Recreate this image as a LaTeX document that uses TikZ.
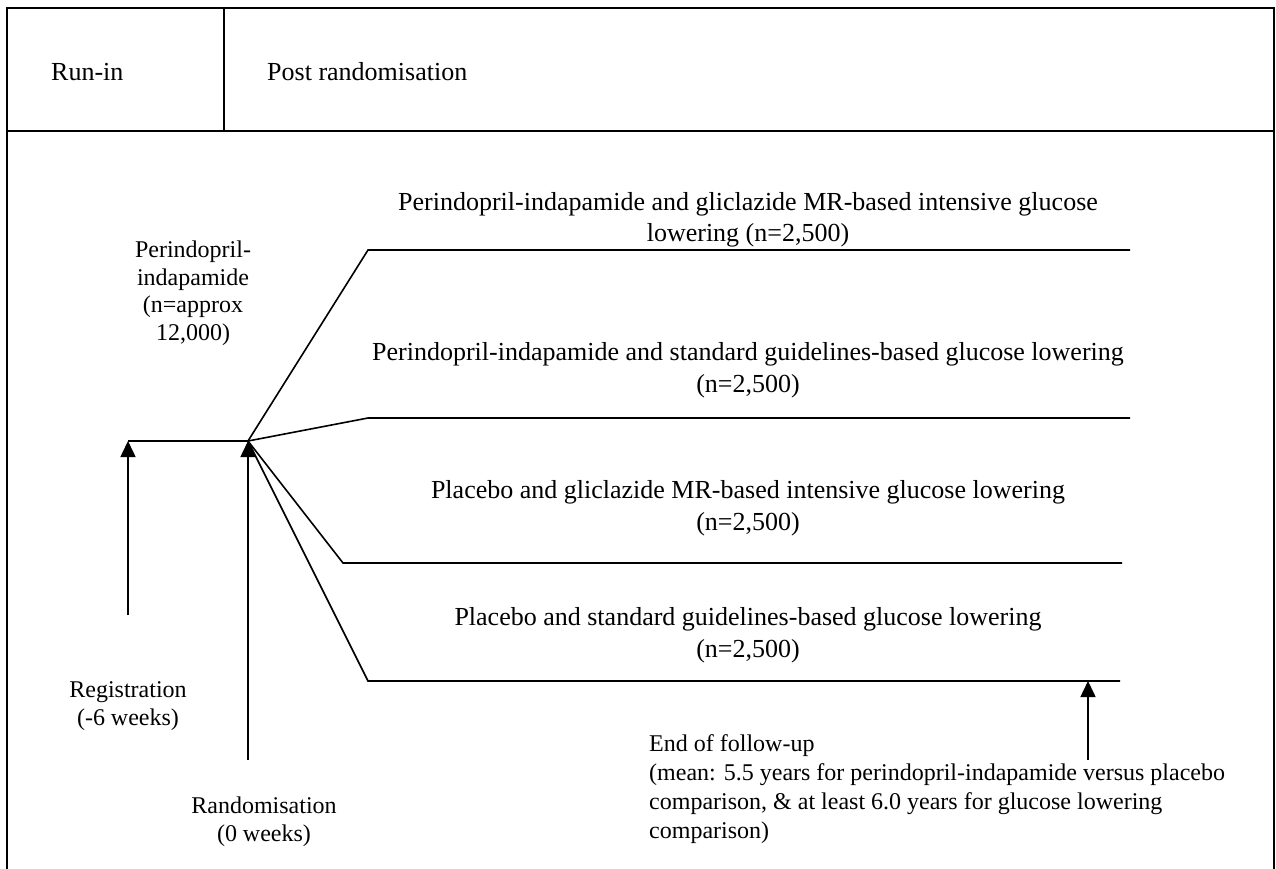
\documentclass[tikz,border=0pt]{standalone}
\usepackage{fontspec}
\setmainfont{Liberation Serif}
\usetikzlibrary{arrows.meta}
\begin{document}
\begin{tikzpicture}[x=1pt,y=-1pt,
  ln/.style={line width=1.6pt},
  arr/.style={line width=1.6pt,-{Triangle[width=15pt,length=16pt]}},
  frame/.style={line width=2pt},
  lbl/.style={inner sep=0pt,align=center,font=\fontsize{24}{28}\selectfont},
  ttl/.style={inner sep=0pt,align=center,font=\fontsize{26}{31.5}\selectfont},
  hdr/.style={inner sep=0pt,align=left,font=\fontsize{26}{29}\selectfont},
  lbll/.style={inner sep=0pt,align=left,font=\fontsize{24}{29}\selectfont}]
\useasboundingbox (0,0) rectangle (1276,868);
% frame
\coordinate (fbl) at (7,880);
\coordinate (ftl) at (7,8);
\coordinate (ftr) at (1274,8);
\coordinate (fbr) at (1274,880);
\coordinate (hl) at (7,131);
\coordinate (hr) at (1274,131);
\coordinate (vt) at (224,8);
\coordinate (vb) at (224,131);
\draw[frame] (fbl) -- (ftl) -- (ftr) -- (fbr);
\draw[frame] (hl) -- (hr);
\draw[frame] (vt) -- (vb);
\node[hdr,anchor=west] (runin) at (51,72) {Run-in};
\node[hdr,anchor=west] (post) at (267,72) {Post randomisation};
% timeline
\coordinate (reg) at (128,441);
\coordinate (rnd) at (248,441);
\coordinate (regb) at (128,615);
\coordinate (rndb) at (248,760);
\coordinate (a1) at (368,250);  \coordinate (e1) at (1130,250);
\coordinate (a2) at (368,418);  \coordinate (e2) at (1130,418);
\coordinate (a3) at (343,563);  \coordinate (e3) at (1122,563);
\coordinate (a4) at (368,681);  \coordinate (e4) at (1120,681);
\coordinate (endt) at (1088,681);
\coordinate (endb) at (1088,760);
\draw[ln] (reg) -- (rnd);
\draw[ln] (rnd) -- (a1) -- (e1);
\draw[ln] (rnd) -- (a2) -- (e2);
\draw[ln] (rnd) -- (a3) -- (e3);
\draw[ln] (rnd) -- (a4) -- (e4);
\draw[arr] (regb) -- (reg);
\draw[arr] (rndb) -- (rnd);
\draw[arr] (endb) -- (endt);
% labels
\node[ttl] (t1) at (748,220) {Perindopril-indapamide and gliclazide MR-based intensive glucose\\lowering (n=2,500)};
\node[ttl] (t2) at (748,370) {Perindopril-indapamide and standard guidelines-based glucose lowering\\(n=2,500)};
\node[ttl] (t3) at (748,508) {Placebo and gliclazide MR-based intensive glucose lowering\\(n=2,500)};
\node[ttl] (t4) at (748,635) {Placebo and standard guidelines-based glucose lowering\\(n=2,500)};
\node[inner sep=0pt,align=center,font=\fontsize{24}{27.5}\selectfont] (pi) at (193,293) {Perindopril-\\indapamide\\(n=approx\\12,000)};
\node[lbl] (regl) at (128,706) {Registration\\(-6 weeks)};
\node[lbl] (rndl) at (264,822) {Randomisation\\(0 weeks)};
\node[lbll,anchor=west] (endl) at (649,789) {End of follow-up\\(mean: 5.5 years for perindopril-indapamide versus placebo\\comparison, \& at least 6.0 years for glucose lowering\\comparison)};
\end{tikzpicture}
\end{document}
